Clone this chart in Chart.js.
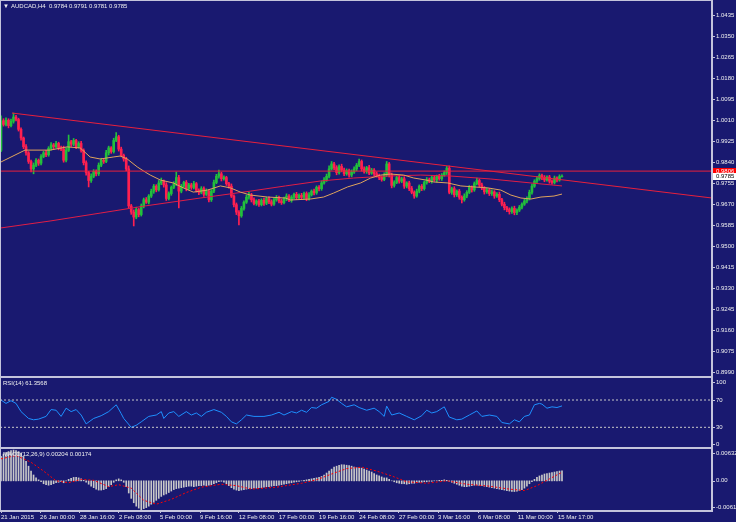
<!DOCTYPE html>
<html>
<head>
<meta charset="utf-8">
<title>AUDCAD,H4</title>
<script src="https://cdn.jsdelivr.net/npm/chart.js@4.4.1/dist/chart.umd.min.js"></script>
<style>
  body { margin: 0; background: #191970; }
  #wrap { position: relative; width: 736px; height: 522px; background: #191970; overflow: hidden; }
  #wrap canvas { position: absolute; left: 0; }
</style>
</head>
<body>
<div id="wrap">
  <canvas id="mainChart" width="736" height="377" style="top:0"></canvas>
  <canvas id="rsiChart" width="736" height="71" style="top:377px"></canvas>
  <canvas id="macdChart" width="736" height="74" style="top:448px"></canvas>
</div>
<script>
// Dados (preços em pips: 9785 = 0.9785)
const firstOpen = 9890;
const closes = [
  10010,9995,10012,9990,10008,10025,10015,9975,9940,9905,
  9880,9845,9815,9830,9850,9838,9865,9880,9872,9898,
  9912,9905,9918,9900,9895,9850,9890,9925,9915,9930,
  9905,9918,9890,9840,9800,9768,9785,9805,9795,9830,
  9850,9845,9880,9900,9885,9930,9945,9895,9870,9855,
  9815,9665,9640,9620,9650,9630,9665,9690,9680,9705,
  9725,9745,9730,9758,9765,9750,9695,9715,9740,9755,
  9780,9725,9745,9760,9735,9750,9740,9755,9728,9720,
  9735,9712,9725,9690,9725,9760,9785,9795,9775,9780,
  9755,9745,9705,9670,9640,9625,9655,9680,9700,9710,
  9690,9675,9685,9670,9688,9676,9695,9682,9672,9690,
  9700,9685,9678,9695,9705,9688,9700,9712,9698,9708,
  9700,9715,9695,9710,9725,9718,9740,9735,9758,9770,
  9785,9815,9835,9820,9800,9825,9810,9795,9808,9790,
  9802,9815,9830,9845,9815,9805,9820,9798,9810,9795,
  9788,9780,9772,9790,9835,9790,9748,9760,9780,9765,
  9775,9745,9758,9735,9720,9705,9725,9745,9735,9760,
  9772,9765,9780,9770,9785,9775,9790,9800,9818,9720,
  9735,9710,9725,9700,9690,9705,9720,9740,9730,9755,
  9768,9750,9738,9722,9730,9715,9722,9705,9712,9690,
  9672,9658,9650,9642,9655,9638,9648,9660,9672,9685,
  9695,9720,9745,9765,9775,9788,9780,9770,9782,9765,
  9760,9778,9770,9784,9785
];
// pavio acima / abaixo do corpo, em pips
const wickUp = [
  20,8,10,6,9,16,7,5,6,4, 8,5,6,9,7,5,8,6,10,7, 9,6,8,5,7,12,10,27,6,8,
  5,7,9,6,8,5,10,7,6,9, 8,6,10,7,5,9,17,6,8,5, 7,12,6,9,10,5,8,7,9,6,
  8,7,6,10,13,5,9,7,6,8, 22,9,7,5,8,6,7,10,5,6, 8,7,9,5,6,10,8,15,6,7,
  5,6,9,5,7,6,8,6,9,10, 6,8,5,7,6,9,5,7,8,6, 7,5,8,6,9,6,7,5,8,6,
  8,6,7,9,5,8,6,7,8,10, 9,12,10,7,8,6,9,8,7,6, 9,8,7,10,6,8,5,9,7,6,
  8,6,7,9,10,6,8,7,5,9, 6,8,5,7,9,6,8,5,7,6, 8,6,7,9,5,8,6,7,7,9,
  6,8,5,7,6,9,7,8,6,7, 10,6,8,5,7,6,8,5,7,9, 6,8,5,7,6,9,5,7,6,8,
  7,9,8,6,10,7,6,8,5,7, 6,8,5,7,6
];
const wickDown = [
  5,7,6,9,5,8,6,7,9,8, 10,8,12,20,6,9,7,5,8,6, 7,9,5,8,6,8,7,5,9,6,
  8,6,7,9,10,26,8,6,9,7, 6,8,5,9,7,6,5,8,6,9, 8,10,9,36,7,9,6,8,5,7,
  6,9,8,5,7,9,8,6,7,5, 8,68,7,6,9,5,8,6,7,9, 6,8,5,9,7,6,5,8,9,6,
  7,8,6,9,10,37,6,7,5,8, 9,6,8,7,5,9,6,8,7,5, 6,8,7,5,9,6,8,6,7,5,
  8,6,9,7,5,8,6,9,7,5, 6,7,5,8,9,6,7,8,6,9, 7,5,8,6,9,7,8,6,5,8,
  6,9,7,5,6,8,10,7,5,8, 6,9,7,8,6,9,5,7,8,6, 7,6,8,5,9,6,7,5,8,6,
  8,9,7,8,13,6,7,5,9,6, 5,8,7,9,6,8,7,9,6,8, 7,9,8,10,7,9,8,6,7,5,
  8,6,7,5,8,6,9,7,5,8, 7,6,8,5,3
];

// médias móveis (barra, valor em pips)
const maFastBars = [0,9.6,19.6,26.4,31.6,35.6,39.6,44.8,47.6,50.4,54.4,57.6,59.6,63.6,68.8,72.8,76.8,82.4,87.6,91.6,95.6,99.6,106.4,113.6,115.6,123.6,128.8,132.8,138.4,143.6,147.6,151.6,155.6,160.8,164.8,169.6,172.8,178.4,183.6,188.8,194.4,199.6,203.6,207.6,211.6,215.6,220.8,224];
const maFastValues = [9843,9891,9891,9904,9900,9863,9855,9863,9867,9855,9823,9802,9790,9770,9758,9738,9721,9729,9746,9738,9721,9709,9701,9697,9689,9693,9701,9717,9742,9758,9778,9790,9794,9790,9778,9770,9762,9758,9746,9742,9738,9729,9709,9697,9693,9701,9705,9713];
const maSlowBars = [0,19.6,39.6,57.6,79.6,99.6,113.6,127.6,140.8,154.4,167.6,179.6,195.6,211.6,224];
const maSlowValues = [9576,9604,9636,9665,9697,9725,9746,9766,9778,9786,9790,9786,9774,9758,9746];

// linha de tendência e linha horizontal
const trendBars = [4.4, 283.9];
const trendValues = [10041, 9697];
const hLineValue = 9806;

const priceTicks = [1.0435,1.0350,1.0265,1.0180,1.0095,1.0010,0.9925,0.9840,0.9755,0.9670,0.9585,0.9500,0.9415,0.9330,0.9245,0.9160,0.9075,0.8990];

// RSI(14)
const rsiBars = [0,2,4,6,8,11,13,15,18,20,22,24,26,28,30,32,34,37,40,43,46,48,49,52,54,56,59,62,64,65,67,69,71,74,76,78,80,82,85,88,90,92,94,96,98,101,105,108,111,113,116,118,120,122,124,126,128,131,132,134,136,138,141,143,146,149,151,153,154,156,159,162,165,168,170,172,174,177,179,182,184,187,190,192,195,198,200,203,205,207,209,211,213,215,216,218,220,222,224];
const rsiValues = [70,65,69,65,53,43,41,42,46,56,55,46,58,53,56,48,35,43,47,53,63,50,43,30,33,38,46,48,53,43,51,53,46,53,48,51,46,52,56,52,46,38,35,41,48,46,46,48,52,48,53,51,55,52,59,58,63,68,74,71,65,60,63,59,55,58,53,46,61,48,51,46,41,47,55,51,53,60,45,41,42,48,54,46,48,46,37,35,41,38,46,48,63,65,64,58,60,59,61.3568];
const rsiLevels = [70, 30];
const rsiTicks = [100, 70, 30, 0];

// MACD(12,26,9) em 0.0001
const macdHist = [
  50,55,58,60,62,63,62,60,57,50, 40,30,20,12,6,2,-2,-6,-8,-9,
  -8,-6,-4,-3,-2,-4,0,3,5,7, 7,6,4,1,-3,-7,-11,-14,-17,-19,
  -19,-18,-16,-12,-8,-3,2,4,2,-3, -12,-25,-36,-45,-52,-56,-60,-57,-55,-52,
  -48,-44,-40,-36,-32,-29,-27,-24,-21,-18, -16,-15,-14,-13,-12,-11,-11,-12,-11,-10,
  -10,-9,-10,-9,-8,-6,-4,-2,-1,-3, -6,-10,-14,-17,-19,-20,-19,-18,-17,-16,
  -16,-15,-15,-14,-14,-13,-12,-12,-11,-10, -10,-9,-8,-7,-6,-5,-4,-3,-2,-1,
  0,1,2,3,4,5,6,7,9,12, 16,20,24,28,30,32,33,33,32,31,
  30,28,27,27,26,24,22,20,18,15, 12,10,8,6,6,3,0,-2,-4,-5,
  -6,-6,-7,-6,-5,-5,-4,-3,-3,-2, -2,-1,-1,0,0,1,1,2,1,-1,
  -3,-5,-7,-9,-11,-12,-12,-11,-10,-9, -9,-10,-10,-11,-12,-13,-14,-15,-16,-17,
  -18,-19,-20,-21,-22,-22,-21,-20,-18,-15, -11,-6,-2,3,7,10,12,14,15,16,
  17,18,19,20,20.4
];
const signalBars = [0,6,12,17,22,27,32,37,43,47,52,57,62,68,74,80,88,94,100,110,120,126,132,138,144,150,156,162,170,178,186,195,203,209,214,219,224];
const signalValues = [45,52,38,20,0,-4,3,1,-12,-8,-15,-40,-48,-38,-24,-13,-7,-10,-17,-13,-5,2,14,25,28,20,10,-2,-5,0,-7,-11,-17,-20,-10,4,17.4];
const macdTickValues = [0.00632, 0, -0.00613];
const macdTickLabels = ['0.00632', '0.00', '-0.00613'];

// eixo do tempo
const dateBars = [0,15.6,31.5,47.1,63.5,79.5,95,111,127,143,158.9,174.5,190.5,206.4,222.4];
const dateLabels = ['21 Jan 2015','26 Jan 00:00','28 Jan 16:00','2 Feb 08:00','5 Feb 00:00','9 Feb 16:00','12 Feb 08:00','17 Feb 00:00','19 Feb 16:00','24 Feb 08:00','27 Feb 00:00','3 Mar 16:00','6 Mar 08:00','11 Mar 00:00','15 Mar 17:00'];

// janela visível
const xMin = -0.4, xMax = 283.9;
const priceMin = 0.89726, priceMax = 1.049855;

// cores
const moldura = '#c4c4dc';
const texto = '#f0f0f0';
const corAlta = '#22c03c';
const corBaixa = '#ff2050';
const corLinha = '#e8203c';
const corMA = '#e0a45c';
const corMALenta = '#e01e46';
const fonte = "'Liberation Sans', 'DejaVu Sans', sans-serif";

Chart.defaults.font.family = fonte;
Chart.defaults.font.size = 6;
Chart.defaults.color = texto;
Chart.defaults.animation = false;
Chart.defaults.plugins.legend.display = false;
Chart.defaults.plugins.tooltip.enabled = false;

const pip = v => v / 10000;
const opens = closes.map((c, i) => i ? closes[i - 1] : firstOpen);
const highs = closes.map((c, i) => Math.max(opens[i], c) + wickUp[i]);
const lows = closes.map((c, i) => Math.min(opens[i], c) - wickDown[i]);
const candleColors = closes.map((c, i) => c >= opens[i] ? corAlta : corBaixa);
const pontos = (xs, ys, f = v => v) => xs.map((x, i) => ({ x: x, y: f(ys[i]) }));
const horizontal = v => [{ x: xMin, y: v }, { x: xMax, y: v }];

function linha(data, cor, extra) {
  return Object.assign({ type: 'line', data: data, borderColor: cor, borderWidth: 1, pointRadius: 0, fill: false }, extra || {});
}

function eixoX(mostrar) {
  return {
    type: 'linear', min: xMin, max: xMax, offset: false, display: mostrar,
    afterBuildTicks: s => { s.ticks = dateBars.map(v => ({ value: v })); },
    afterFit: s => {
      if (!mostrar) return;
      s.height = 11; s.paddingLeft = 0; s.paddingRight = 0;
    },
    ticks: { autoSkip: false, maxRotation: 0, minRotation: 0, align: 'start', padding: 1, color: texto,
      callback: (v, i) => dateLabels[i] },
    grid: { drawOnChartArea: false, tickLength: 2, color: moldura, offset: false },
    border: { color: moldura }
  };
}

function larguraEixo(s) { s.width = 24; s.paddingTop = 0; s.paddingBottom = 0; }

function escrever(ctx, txt, x, y, cor) {
  ctx.save();
  ctx.font = '6px ' + fonte;
  ctx.fillStyle = cor || texto;
  ctx.textAlign = 'left';
  ctx.textBaseline = 'middle';
  ctx.fillText(txt, x, y);
  ctx.restore();
}

// rótulos do eixo direito nas subjanelas (presos dentro da janela)
function rotulosEixo(chart, valores, textos) {
  const y = chart.scales.y, a = chart.chartArea, ctx = chart.ctx;
  valores.forEach((v, i) => {
    const py = Math.min(Math.max(y.getPixelForValue(v), a.top + 5), a.bottom - 4);
    ctx.save();
    ctx.strokeStyle = moldura;
    ctx.beginPath();
    ctx.moveTo(a.right, Math.round(py) + 0.5);
    ctx.lineTo(a.right + 3, Math.round(py) + 0.5);
    ctx.stroke();
    ctx.restore();
    escrever(ctx, textos[i], a.right + 4, py);
  });
}

function etiqueta(chart, valor, fundoCor, corTexto) {
  const ctx = chart.ctx, py = chart.scales.y.getPixelForValue(pip(valor)), x0 = chart.chartArea.right + 1;
  ctx.save();
  ctx.fillStyle = fundoCor;
  ctx.fillRect(x0, Math.round(py) - 3, 736 - x0, 7);
  ctx.restore();
  escrever(ctx, pip(valor).toFixed(4), x0 + 3, Math.round(py) + 0.5, corTexto);
}

const molduraPlugin = {
  id: 'moldura',
  afterDraw(chart) {
    const { ctx, chartArea: a } = chart;
    ctx.save();
    ctx.strokeStyle = moldura;
    ctx.lineWidth = 1;
    ctx.strokeRect(a.left + 0.5, a.top + 0.5, a.right - a.left - 1, a.bottom - a.top - 1);
    ctx.restore();
  }
};

// Janela principal: velas, médias e linhas
const ultimo = closes.length - 1;
new Chart(document.getElementById('mainChart'), {
  type: 'bar',
  data: {
    datasets: [
      linha(pontos(trendBars, trendValues, pip), corLinha, { order: 0 }),
      linha(horizontal(pip(hLineValue)), corLinha, { order: 0 }),
      linha(pontos(maFastBars, maFastValues, pip), corMA, { order: 1 }),
      linha(pontos(maSlowBars, maSlowValues, pip), corMALenta, { order: 2 }),
      { data: closes.map((c, i) => ({ x: i, y: [pip(opens[i]), pip(c)] })),
        backgroundColor: candleColors, barThickness: 2, grouped: false, borderWidth: 0, order: 5 },
      { data: closes.map((c, i) => ({ x: i, y: [pip(lows[i]), pip(highs[i])] })),
        backgroundColor: candleColors, barThickness: 1, grouped: false, borderWidth: 0, order: 6 }
    ]
  },
  options: {
    responsive: false,
    events: [],
    layout: { padding: 0 },
    scales: {
      x: eixoX(false),
      y: {
        position: 'right', min: priceMin, max: priceMax,
        afterFit: larguraEixo,
        afterBuildTicks: s => { s.ticks = priceTicks.map(v => ({ value: v })); },
        ticks: { callback: v => v.toFixed(4), padding: 1, color: texto },
        grid: { drawOnChartArea: false, tickLength: 3, color: moldura },
        border: { color: moldura }
      }
    }
  },
  plugins: [molduraPlugin, {
    id: 'textoPrincipal',
    afterDraw(chart) {
      const valores = [opens[ultimo], highs[ultimo], lows[ultimo], closes[ultimo]].map(v => pip(v).toFixed(4)).join(' ');
      escrever(chart.ctx, '\u25BC', 3, 6);
      escrever(chart.ctx, 'AUDCAD,H4  ' + valores, 11, 6);
      etiqueta(chart, hLineValue, '#ff0000', '#ffffff');
      etiqueta(chart, closes[ultimo], '#ffffff', '#000000');
    }
  }]
});

// RSI
new Chart(document.getElementById('rsiChart'), {
  type: 'line',
  data: {
    datasets: rsiLevels.map(v => linha(horizontal(v), '#c8c8c8', { borderDash: [2, 2] }))
      .concat([linha(pontos(rsiBars, rsiValues), '#1e90ff')])
  },
  options: {
    responsive: false,
    events: [],
    layout: { padding: 0 },
    scales: {
      x: eixoX(false),
      y: { position: 'right', min: -0.3, max: 103.7, afterFit: larguraEixo,
        ticks: { display: false }, grid: { display: false }, border: { color: moldura } }
    }
  },
  plugins: [molduraPlugin, {
    id: 'textoRsi',
    afterDraw(chart) {
      escrever(chart.ctx, 'RSI(14) ' + rsiValues[rsiValues.length - 1].toFixed(4), 3, 6);
      rotulosEixo(chart, rsiTicks, rsiTicks.map(String));
    }
  }]
});

// MACD
new Chart(document.getElementById('macdChart'), {
  type: 'bar',
  data: {
    datasets: [
      linha(pontos(signalBars, signalValues, pip), '#ff0000', { borderDash: [2, 2], order: 0 }),
      { data: macdHist.map((v, i) => ({ x: i, y: pip(v) })), backgroundColor: '#c8c8c8',
        barThickness: 1, grouped: false, borderWidth: 0, order: 1 }
    ]
  },
  options: {
    responsive: false,
    events: [],
    layout: { padding: 0 },
    scales: {
      x: eixoX(true),
      y: { position: 'right', min: -0.00619, max: 0.00673, afterFit: larguraEixo,
        ticks: { display: false }, grid: { display: false }, border: { color: moldura } }
    }
  },
  plugins: [molduraPlugin, {
    id: 'textoMacd',
    afterDraw(chart) {
      const ult = v => pip(v[v.length - 1]).toFixed(5);
      escrever(chart.ctx, 'MACD(12,26,9) ' + ult(macdHist) + ' ' + ult(signalValues), 3, 6);
      rotulosEixo(chart, macdTickValues, macdTickLabels);
    }
  }]
});
</script>
</body>
</html>
